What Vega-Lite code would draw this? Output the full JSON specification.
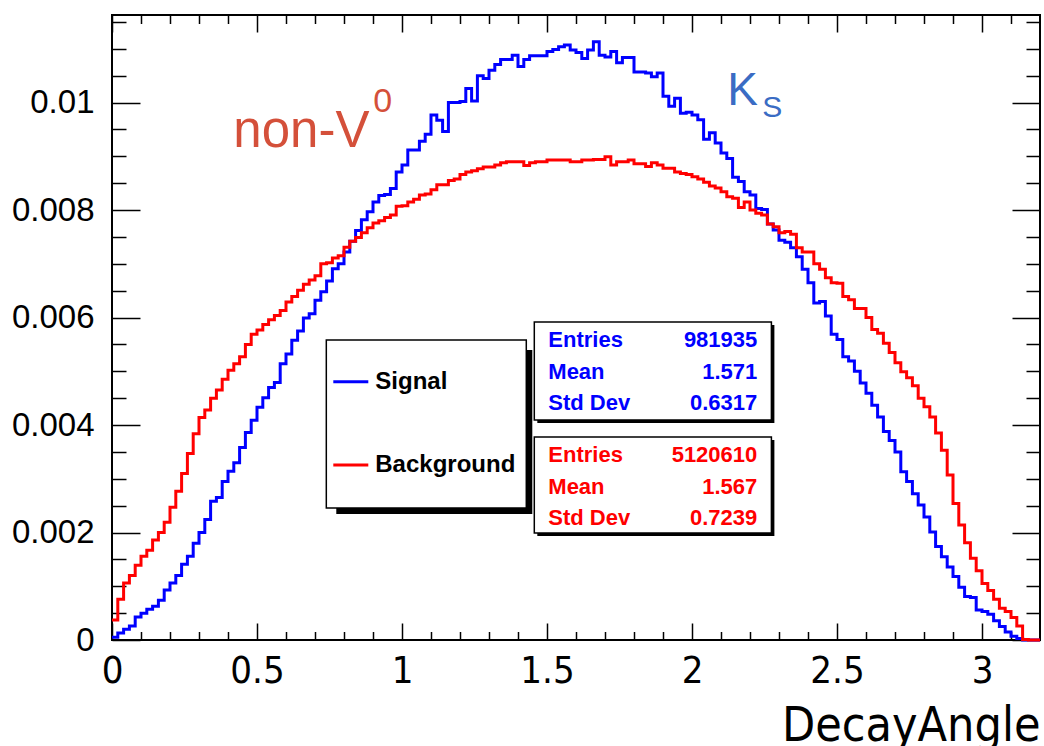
{
"$schema": "https://vega.github.io/schema/vega-lite/v6.json",
"width": 928, "height": 625,
"autosize": "none",
"padding": {"left": 112, "top": 15, "right": 4, "bottom": 106},
"background": "white",
"config": {"view": {"stroke": "black", "strokeWidth": 2}, "axis": {"tickColor": "black", "tickWidth": 1.5, "grid": false}},
"datasets": {
"one": [{}],
"signal": [
{"x":0,"y":0.00005},{"x":0.02,"y":0.00013},{"x":0.04,"y":0.0002},{"x":0.06,"y":0.00026},{"x":0.08,"y":0.00043},{"x":0.1,"y":0.0005},{"x":0.12,"y":0.00057},{"x":0.14,"y":0.00063},{"x":0.16,"y":0.00074},{"x":0.18,"y":0.00093},
{"x":0.2,"y":0.00106},{"x":0.22,"y":0.0012},{"x":0.24,"y":0.00141},{"x":0.26,"y":0.00156},{"x":0.28,"y":0.0018},{"x":0.3,"y":0.002},{"x":0.32,"y":0.00224},{"x":0.34,"y":0.00258},{"x":0.36,"y":0.00265},{"x":0.38,"y":0.00295},
{"x":0.4,"y":0.00314},{"x":0.42,"y":0.0033},{"x":0.44,"y":0.00358},{"x":0.46,"y":0.00386},{"x":0.48,"y":0.00409},{"x":0.5,"y":0.00433},{"x":0.52,"y":0.00451},{"x":0.54,"y":0.0047},{"x":0.56,"y":0.00479},{"x":0.58,"y":0.00514},
{"x":0.6,"y":0.00532},{"x":0.62,"y":0.00558},{"x":0.64,"y":0.00575},{"x":0.66,"y":0.00599},{"x":0.68,"y":0.00607},{"x":0.7,"y":0.00632},{"x":0.72,"y":0.00648},{"x":0.74,"y":0.00668},{"x":0.76,"y":0.00691},{"x":0.78,"y":0.007},
{"x":0.8,"y":0.00722},{"x":0.82,"y":0.00742},{"x":0.84,"y":0.00762},{"x":0.86,"y":0.00782},{"x":0.88,"y":0.00797},{"x":0.9,"y":0.00815},{"x":0.92,"y":0.00827},{"x":0.94,"y":0.00829},{"x":0.96,"y":0.0084},{"x":0.98,"y":0.00871},
{"x":1.0,"y":0.00884},{"x":1.02,"y":0.00912},{"x":1.04,"y":0.00912},{"x":1.06,"y":0.00928},{"x":1.08,"y":0.00941},{"x":1.1,"y":0.00977},{"x":1.12,"y":0.00967},{"x":1.14,"y":0.00946},{"x":1.16,"y":0.01},{"x":1.18,"y":0.01},
{"x":1.2,"y":0.01002},{"x":1.22,"y":0.01026},{"x":1.24,"y":0.01003},{"x":1.26,"y":0.0105},{"x":1.28,"y":0.01045},{"x":1.3,"y":0.0106},{"x":1.32,"y":0.01071},{"x":1.34,"y":0.0108},{"x":1.36,"y":0.0108},{"x":1.38,"y":0.01088},
{"x":1.4,"y":0.01067},{"x":1.42,"y":0.0108},{"x":1.44,"y":0.01087},{"x":1.46,"y":0.01087},{"x":1.48,"y":0.01087},{"x":1.5,"y":0.01095},{"x":1.52,"y":0.01099},{"x":1.54,"y":0.01104},{"x":1.56,"y":0.01107},{"x":1.58,"y":0.01098},
{"x":1.6,"y":0.01093},{"x":1.62,"y":0.01082},{"x":1.64,"y":0.01098},{"x":1.66,"y":0.01113},{"x":1.68,"y":0.01088},{"x":1.7,"y":0.01085},{"x":1.72,"y":0.01095},{"x":1.74,"y":0.01074},{"x":1.76,"y":0.01084},{"x":1.78,"y":0.01084},
{"x":1.8,"y":0.01057},{"x":1.82,"y":0.01057},{"x":1.84,"y":0.01055},{"x":1.86,"y":0.01048},{"x":1.88,"y":0.01055},{"x":1.9,"y":0.01012},{"x":1.92,"y":0.00993},{"x":1.94,"y":0.01008},{"x":1.96,"y":0.0098},{"x":1.98,"y":0.00982},
{"x":2.0,"y":0.00977},{"x":2.02,"y":0.00968},{"x":2.04,"y":0.00932},{"x":2.06,"y":0.00944},{"x":2.08,"y":0.00925},{"x":2.1,"y":0.00906},{"x":2.12,"y":0.00896},{"x":2.14,"y":0.00861},{"x":2.16,"y":0.00853},{"x":2.18,"y":0.00834},
{"x":2.2,"y":0.00828},{"x":2.22,"y":0.00803},{"x":2.24,"y":0.00801},{"x":2.26,"y":0.00774},{"x":2.28,"y":0.00763},{"x":2.3,"y":0.00744},{"x":2.32,"y":0.0074},{"x":2.34,"y":0.0073},{"x":2.36,"y":0.00713},{"x":2.38,"y":0.0069},
{"x":2.4,"y":0.00665},{"x":2.42,"y":0.00627},{"x":2.44,"y":0.0063},{"x":2.46,"y":0.00603},{"x":2.48,"y":0.00569},{"x":2.5,"y":0.00559},{"x":2.52,"y":0.00527},{"x":2.54,"y":0.00519},{"x":2.56,"y":0.005},{"x":2.58,"y":0.00478},
{"x":2.6,"y":0.00459},{"x":2.62,"y":0.00437},{"x":2.64,"y":0.00415},{"x":2.66,"y":0.00388},{"x":2.68,"y":0.00371},{"x":2.7,"y":0.0035},{"x":2.72,"y":0.00313},{"x":2.74,"y":0.00295},{"x":2.76,"y":0.00272},{"x":2.78,"y":0.00251},
{"x":2.8,"y":0.00229},{"x":2.82,"y":0.00201},{"x":2.84,"y":0.00174},{"x":2.86,"y":0.00155},{"x":2.88,"y":0.00136},{"x":2.9,"y":0.00118},{"x":2.92,"y":0.00098},{"x":2.94,"y":0.00081},{"x":2.96,"y":0.00079},{"x":2.98,"y":0.00056},
{"x":3.0,"y":0.00053},{"x":3.02,"y":0.00048},{"x":3.04,"y":0.00036},{"x":3.06,"y":0.00025},{"x":3.08,"y":0.00015},{"x":3.1,"y":0.00007},{"x":3.12,"y":0.00003},{"x":3.14,"y":0},{"x":3.16,"y":0},{"x":3.18,"y":0},
{"x":3.2,"y":0}
],
"background": [
{"x":0,"y":0.00037},{"x":0.02,"y":0.00076},{"x":0.04,"y":0.00106},{"x":0.06,"y":0.0012},{"x":0.08,"y":0.00139},{"x":0.1,"y":0.00156},{"x":0.12,"y":0.00167},{"x":0.14,"y":0.00186},{"x":0.16,"y":0.002},{"x":0.18,"y":0.00219},
{"x":0.2,"y":0.00247},{"x":0.22,"y":0.00277},{"x":0.24,"y":0.0031},{"x":0.26,"y":0.00347},{"x":0.28,"y":0.00384},{"x":0.3,"y":0.00414},{"x":0.32,"y":0.00428},{"x":0.34,"y":0.0045},{"x":0.36,"y":0.00465},{"x":0.38,"y":0.00485},
{"x":0.4,"y":0.00502},{"x":0.42,"y":0.00514},{"x":0.44,"y":0.00527},{"x":0.46,"y":0.0055},{"x":0.48,"y":0.00569},{"x":0.5,"y":0.00577},{"x":0.52,"y":0.00587},{"x":0.54,"y":0.00596},{"x":0.56,"y":0.00604},{"x":0.58,"y":0.00613},
{"x":0.6,"y":0.00629},{"x":0.62,"y":0.00639},{"x":0.64,"y":0.00651},{"x":0.66,"y":0.00662},{"x":0.68,"y":0.0067},{"x":0.7,"y":0.00678},{"x":0.72,"y":0.007},{"x":0.74,"y":0.00702},{"x":0.76,"y":0.00711},{"x":0.78,"y":0.00715},
{"x":0.8,"y":0.00731},{"x":0.82,"y":0.00742},{"x":0.84,"y":0.00749},{"x":0.86,"y":0.00758},{"x":0.88,"y":0.00767},{"x":0.9,"y":0.00776},{"x":0.92,"y":0.0078},{"x":0.94,"y":0.00786},{"x":0.96,"y":0.00791},{"x":0.98,"y":0.00807},
{"x":1.0,"y":0.00808},{"x":1.02,"y":0.00815},{"x":1.04,"y":0.0082},{"x":1.06,"y":0.00828},{"x":1.08,"y":0.0083},{"x":1.1,"y":0.00838},{"x":1.12,"y":0.00847},{"x":1.14,"y":0.00847},{"x":1.16,"y":0.00855},{"x":1.18,"y":0.00858},
{"x":1.2,"y":0.00866},{"x":1.22,"y":0.00871},{"x":1.24,"y":0.00873},{"x":1.26,"y":0.00877},{"x":1.28,"y":0.0088},{"x":1.3,"y":0.0088},{"x":1.32,"y":0.00884},{"x":1.34,"y":0.00888},{"x":1.36,"y":0.0089},{"x":1.38,"y":0.0089},
{"x":1.4,"y":0.0089},{"x":1.42,"y":0.00883},{"x":1.44,"y":0.00888},{"x":1.46,"y":0.0089},{"x":1.48,"y":0.0089},{"x":1.5,"y":0.00893},{"x":1.52,"y":0.00893},{"x":1.54,"y":0.00893},{"x":1.56,"y":0.00893},{"x":1.58,"y":0.0089},
{"x":1.6,"y":0.0089},{"x":1.62,"y":0.00893},{"x":1.64,"y":0.00893},{"x":1.66,"y":0.00894},{"x":1.68,"y":0.00894},{"x":1.7,"y":0.00899},{"x":1.72,"y":0.00884},{"x":1.74,"y":0.0089},{"x":1.76,"y":0.0089},{"x":1.78,"y":0.00893},
{"x":1.8,"y":0.00886},{"x":1.82,"y":0.00886},{"x":1.84,"y":0.00881},{"x":1.86,"y":0.00888},{"x":1.88,"y":0.00884},{"x":1.9,"y":0.00878},{"x":1.92,"y":0.00878},{"x":1.94,"y":0.00871},{"x":1.96,"y":0.00868},{"x":1.98,"y":0.00866},
{"x":2.0,"y":0.00862},{"x":2.02,"y":0.00858},{"x":2.04,"y":0.00852},{"x":2.06,"y":0.00845},{"x":2.08,"y":0.00841},{"x":2.1,"y":0.00834},{"x":2.12,"y":0.00825},{"x":2.14,"y":0.00822},{"x":2.16,"y":0.00805},{"x":2.18,"y":0.00815},
{"x":2.2,"y":0.008},{"x":2.22,"y":0.00794},{"x":2.24,"y":0.00791},{"x":2.26,"y":0.00774},{"x":2.28,"y":0.00769},{"x":2.3,"y":0.00758},{"x":2.32,"y":0.0076},{"x":2.34,"y":0.00755},{"x":2.36,"y":0.0073},{"x":2.38,"y":0.00722},
{"x":2.4,"y":0.00722},{"x":2.42,"y":0.007},{"x":2.44,"y":0.0069},{"x":2.46,"y":0.00674},{"x":2.48,"y":0.00665},{"x":2.5,"y":0.00664},{"x":2.52,"y":0.00639},{"x":2.54,"y":0.00633},{"x":2.56,"y":0.00617},{"x":2.58,"y":0.00617},
{"x":2.6,"y":0.006},{"x":2.62,"y":0.00578},{"x":2.64,"y":0.00571},{"x":2.66,"y":0.00552},{"x":2.68,"y":0.00535},{"x":2.7,"y":0.00516},{"x":2.72,"y":0.00499},{"x":2.74,"y":0.00488},{"x":2.76,"y":0.00473},{"x":2.78,"y":0.0045},
{"x":2.8,"y":0.00434},{"x":2.82,"y":0.00415},{"x":2.84,"y":0.00385},{"x":2.86,"y":0.00353},{"x":2.88,"y":0.00307},{"x":2.9,"y":0.00254},{"x":2.92,"y":0.00214},{"x":2.94,"y":0.00181},{"x":2.96,"y":0.00152},{"x":2.98,"y":0.00129},
{"x":3.0,"y":0.00105},{"x":3.02,"y":0.00092},{"x":3.04,"y":0.00076},{"x":3.06,"y":0.00059},{"x":3.08,"y":0.00053},{"x":3.1,"y":0.00042},{"x":3.12,"y":0.00026},{"x":3.14,"y":0.00001},{"x":3.16,"y":0},{"x":3.18,"y":0},
{"x":3.2,"y":0}
]
},
"resolve": {"axis": {"x": "independent", "y": "independent"}},
"layer": [
{"data": {"name": "signal"}, "mark": {"type": "point", "opacity": 0},
 "encoding": {
  "x": {"field": "x", "type": "quantitative", "scale": {"domain": [0, 3.2], "nice": false, "zero": false},
        "axis": {"orient": "bottom", "values": [0, 0.5, 1, 1.5, 2, 2.5, 3], "labels": false, "domain": false, "title": null, "tickSize": -17}},
  "y": {"field": "y", "type": "quantitative", "scale": {"domain": [0, 0.01163], "nice": false, "zero": false},
        "axis": {"orient": "left", "values": [0, 0.002, 0.004, 0.006, 0.008, 0.01], "labels": false, "domain": false, "title": null, "tickSize": -28}}}},
{"data": {"name": "signal"}, "mark": {"type": "point", "opacity": 0},
 "encoding": {
  "x": {"field": "x", "type": "quantitative", "scale": {"domain": [0, 3.2], "nice": false, "zero": false},
        "axis": {"orient": "bottom", "values": [0.1,0.2,0.3,0.4,0.6,0.7,0.8,0.9,1.1,1.2,1.3,1.4,1.6,1.7,1.8,1.9,2.1,2.2,2.3,2.4,2.6,2.7,2.8,2.9,3.1], "labels": false, "domain": false, "title": null, "tickSize": -8.5}},
  "y": {"field": "y", "type": "quantitative", "scale": {"domain": [0, 0.01163], "nice": false, "zero": false},
        "axis": {"orient": "left", "values": [0.0005,0.001,0.0015,0.0025,0.003,0.0035,0.0045,0.005,0.0055,0.0065,0.007,0.0075,0.0085,0.009,0.0095,0.0105,0.011,0.0115], "labels": false, "domain": false, "title": null, "tickSize": -14}}}},
{"data": {"name": "signal"}, "mark": {"type": "point", "opacity": 0},
 "encoding": {
  "x": {"field": "x", "type": "quantitative", "scale": {"domain": [0, 3.2], "nice": false, "zero": false},
        "axis": {"orient": "top", "values": [0, 0.5, 1, 1.5, 2, 2.5, 3], "labels": false, "domain": false, "title": null, "tickSize": -17}},
  "y": {"field": "y", "type": "quantitative", "scale": {"domain": [0, 0.01163], "nice": false, "zero": false},
        "axis": {"orient": "right", "values": [0, 0.002, 0.004, 0.006, 0.008, 0.01], "labels": false, "domain": false, "title": null, "tickSize": -28}}}},
{"data": {"name": "signal"}, "mark": {"type": "point", "opacity": 0},
 "encoding": {
  "x": {"field": "x", "type": "quantitative", "scale": {"domain": [0, 3.2], "nice": false, "zero": false},
        "axis": {"orient": "top", "values": [0.1,0.2,0.3,0.4,0.6,0.7,0.8,0.9,1.1,1.2,1.3,1.4,1.6,1.7,1.8,1.9,2.1,2.2,2.3,2.4,2.6,2.7,2.8,2.9,3.1], "labels": false, "domain": false, "title": null, "tickSize": -8.5}},
  "y": {"field": "y", "type": "quantitative", "scale": {"domain": [0, 0.01163], "nice": false, "zero": false},
        "axis": {"orient": "right", "values": [0.0005,0.001,0.0015,0.0025,0.003,0.0035,0.0045,0.005,0.0055,0.0065,0.007,0.0075,0.0085,0.009,0.0095,0.0105,0.011,0.0115], "labels": false, "domain": false, "title": null, "tickSize": -14}}}},
{"data": {"name": "signal"}, "mark": {"type": "line", "interpolate": "step-after", "color": "#0000ff", "strokeWidth": 3},
 "encoding": {
  "x": {"field": "x", "type": "quantitative", "scale": {"domain": [0, 3.2], "nice": false, "zero": false},
        "axis": {"orient": "bottom", "values": [0, 0.5, 1, 1.5, 2, 2.5, 3], "ticks": false, "tickSize": 0, "domain": false,
                 "labelFont": "DejaVu Sans Condensed, Liberation Sans, sans-serif", "labelFontSize": 38, "labelPadding": 12, "labelColor": "black",
                 "labelExpr": "format(datum.value, '~g')", "labelFlush": false, "labelOverlap": false,
                 "title": "DecayAngle", "titleFont": "DejaVu Sans Condensed, Liberation Sans, sans-serif", "titleFontSize": 48, "titleFontWeight": "normal", "titleColor": "black",
                 "titleAnchor": "end", "titleAlign": "right", "titleBaseline": "alphabetic", "titleX": 928, "titleY": 100}},
  "y": {"field": "y", "type": "quantitative", "scale": {"domain": [0, 0.01163], "nice": false, "zero": false},
        "axis": {"orient": "left", "values": [0, 0.002, 0.004, 0.006, 0.008, 0.01], "ticks": false, "tickSize": 0, "domain": false,
                 "labelFont": "Liberation Sans", "labelFontSize": 33, "labelPadding": 18, "labelColor": "black",
                 "labelExpr": "datum.value == 0 ? '0' : format(datum.value, '.3~f')", "labelFlush": false, "labelOverlap": false, "title": null}}}},
{"data": {"name": "background"}, "mark": {"type": "line", "interpolate": "step-after", "color": "#ff0000", "strokeWidth": 3},
 "encoding": {
  "x": {"field": "x", "type": "quantitative", "scale": {"domain": [0, 3.2], "nice": false, "zero": false}, "axis": null},
  "y": {"field": "y", "type": "quantitative", "scale": {"domain": [0, 0.01163], "nice": false, "zero": false}, "axis": null}}},
{"data": {"name": "one"}, "mark": {"type": "rect", "color": "black"},
 "encoding": {
  "x": {"datum": 0.7734, "type": "quantitative", "scale": {"domain": [0, 3.2], "nice": false, "zero": false}, "axis": null}, "x2": {"datum": 1.4493},
  "y": {"datum": 0.005396, "type": "quantitative", "scale": {"domain": [0, 0.01163], "nice": false, "zero": false}, "axis": null}, "y2": {"datum": 0.002345}}},
{"data": {"name": "one"}, "mark": {"type": "rect", "fill": "white", "stroke": "black", "strokeWidth": 1.5},
 "encoding": {
  "x": {"datum": 0.739, "type": "quantitative", "scale": {"domain": [0, 3.2], "nice": false, "zero": false}, "axis": null}, "x2": {"datum": 1.4286},
  "y": {"datum": 0.005582, "type": "quantitative", "scale": {"domain": [0, 0.01163], "nice": false, "zero": false}, "axis": null}, "y2": {"datum": 0.002456}}},
{"data": {"name": "one"}, "mark": {"type": "rule", "color": "#0000ff", "strokeWidth": 3},
 "encoding": {
  "x": {"datum": 0.7631, "type": "quantitative", "scale": {"domain": [0, 3.2], "nice": false, "zero": false}, "axis": null}, "x2": {"datum": 0.8838},
  "y": {"datum": 0.004806, "type": "quantitative", "scale": {"domain": [0, 0.01163], "nice": false, "zero": false}, "axis": null}}},
{"data": {"name": "one"}, "mark": {"type": "rule", "color": "#ff0000", "strokeWidth": 3},
 "encoding": {
  "x": {"datum": 0.7631, "type": "quantitative", "scale": {"domain": [0, 3.2], "nice": false, "zero": false}, "axis": null}, "x2": {"datum": 0.8838},
  "y": {"datum": 0.003256, "type": "quantitative", "scale": {"domain": [0, 0.01163], "nice": false, "zero": false}, "axis": null}}},
{"data": {"name": "one"}, "mark": {"type": "text", "text": "Signal", "font": "Liberation Sans", "fontWeight": "bold", "fontSize": 24, "color": "black", "align": "left", "baseline": "middle"},
 "encoding": {
  "x": {"datum": 0.9079, "type": "quantitative", "scale": {"domain": [0, 3.2], "nice": false, "zero": false}, "axis": null},
  "y": {"datum": 0.004806, "type": "quantitative", "scale": {"domain": [0, 0.01163], "nice": false, "zero": false}, "axis": null}}},
{"data": {"name": "one"}, "mark": {"type": "text", "text": "Background", "font": "Liberation Sans", "fontWeight": "bold", "fontSize": 24, "color": "black", "align": "left", "baseline": "middle"},
 "encoding": {
  "x": {"datum": 0.9079, "type": "quantitative", "scale": {"domain": [0, 3.2], "nice": false, "zero": false}, "axis": null},
  "y": {"datum": 0.003256, "type": "quantitative", "scale": {"domain": [0, 0.01163], "nice": false, "zero": false}, "axis": null}}},
{"data": {"name": "one"}, "mark": {"type": "rect", "color": "black"},
 "encoding": {
  "x": {"datum": 1.4666, "type": "quantitative", "scale": {"domain": [0, 3.2], "nice": false, "zero": false}, "axis": null}, "x2": {"datum": 2.2841},
  "y": {"datum": 0.005861, "type": "quantitative", "scale": {"domain": [0, 0.01163], "nice": false, "zero": false}, "axis": null}, "y2": {"datum": 0.004038}}},
{"data": {"name": "one"}, "mark": {"type": "rect", "fill": "white", "stroke": "black", "strokeWidth": 1.5},
 "encoding": {
  "x": {"datum": 1.4562, "type": "quantitative", "scale": {"domain": [0, 3.2], "nice": false, "zero": false}, "axis": null}, "x2": {"datum": 2.2738},
  "y": {"datum": 0.005917, "type": "quantitative", "scale": {"domain": [0, 0.01163], "nice": false, "zero": false}, "axis": null}, "y2": {"datum": 0.004094}}},
{"data": {"name": "one"}, "mark": {"type": "rect", "color": "black"},
 "encoding": {
  "x": {"datum": 1.4666, "type": "quantitative", "scale": {"domain": [0, 3.2], "nice": false, "zero": false}, "axis": null}, "x2": {"datum": 2.2841},
  "y": {"datum": 0.003722, "type": "quantitative", "scale": {"domain": [0, 0.01163], "nice": false, "zero": false}, "axis": null}, "y2": {"datum": 0.001935}}},
{"data": {"name": "one"}, "mark": {"type": "rect", "fill": "white", "stroke": "black", "strokeWidth": 1.5},
 "encoding": {
  "x": {"datum": 1.4562, "type": "quantitative", "scale": {"domain": [0, 3.2], "nice": false, "zero": false}, "axis": null}, "x2": {"datum": 2.2738},
  "y": {"datum": 0.003777, "type": "quantitative", "scale": {"domain": [0, 0.01163], "nice": false, "zero": false}, "axis": null}, "y2": {"datum": 0.001991}}},
{"data": {"name": "one"}, "mark": {"type": "text", "text": ["Entries", "Mean", "Std Dev"], "lineHeight": 31.7, "font": "Liberation Sans", "fontWeight": "bold", "fontSize": 22, "color": "#0000ff", "align": "left", "baseline": "middle"},
 "encoding": {
  "x": {"datum": 1.5045, "type": "quantitative", "scale": {"domain": [0, 3.2], "nice": false, "zero": false}, "axis": null},
  "y": {"datum": 0.005582, "type": "quantitative", "scale": {"domain": [0, 0.01163], "nice": false, "zero": false}, "axis": null}}},
{"data": {"name": "one"}, "mark": {"type": "text", "text": ["981935", "1.571", "0.6317"], "lineHeight": 31.7, "font": "Liberation Sans", "fontWeight": "bold", "fontSize": 22, "color": "#0000ff", "align": "right", "baseline": "middle"},
 "encoding": {
  "x": {"datum": 2.2252, "type": "quantitative", "scale": {"domain": [0, 3.2], "nice": false, "zero": false}, "axis": null},
  "y": {"datum": 0.005582, "type": "quantitative", "scale": {"domain": [0, 0.01163], "nice": false, "zero": false}, "axis": null}}},
{"data": {"name": "one"}, "mark": {"type": "text", "text": ["Entries", "Mean", "Std Dev"], "lineHeight": 31.7, "font": "Liberation Sans", "fontWeight": "bold", "fontSize": 22, "color": "#ff0000", "align": "left", "baseline": "middle"},
 "encoding": {
  "x": {"datum": 1.5045, "type": "quantitative", "scale": {"domain": [0, 3.2], "nice": false, "zero": false}, "axis": null},
  "y": {"datum": 0.003442, "type": "quantitative", "scale": {"domain": [0, 0.01163], "nice": false, "zero": false}, "axis": null}}},
{"data": {"name": "one"}, "mark": {"type": "text", "text": ["5120610", "1.567", "0.7239"], "lineHeight": 31.7, "font": "Liberation Sans", "fontWeight": "bold", "fontSize": 22, "color": "#ff0000", "align": "right", "baseline": "middle"},
 "encoding": {
  "x": {"datum": 2.2252, "type": "quantitative", "scale": {"domain": [0, 3.2], "nice": false, "zero": false}, "axis": null},
  "y": {"datum": 0.003442, "type": "quantitative", "scale": {"domain": [0, 0.01163], "nice": false, "zero": false}, "axis": null}}},
{"data": {"name": "one"}, "mark": {"type": "text", "text": "non-V", "font": "Liberation Sans", "fontSize": 51, "color": "#d4503a", "align": "left", "baseline": "alphabetic"},
 "encoding": {
  "x": {"datum": 0.4183, "type": "quantitative", "scale": {"domain": [0, 3.2], "nice": false, "zero": false}, "axis": null},
  "y": {"datum": 0.009174, "type": "quantitative", "scale": {"domain": [0, 0.01163], "nice": false, "zero": false}, "axis": null}}},
{"data": {"name": "one"}, "mark": {"type": "text", "text": "0", "font": "Liberation Sans", "fontSize": 34, "color": "#d4503a", "align": "left", "baseline": "alphabetic"},
 "encoding": {
  "x": {"datum": 0.9010, "type": "quantitative", "scale": {"domain": [0, 3.2], "nice": false, "zero": false}, "axis": null},
  "y": {"datum": 0.009825, "type": "quantitative", "scale": {"domain": [0, 0.01163], "nice": false, "zero": false}, "axis": null}}},
{"data": {"name": "one"}, "mark": {"type": "text", "text": "K", "font": "Liberation Sans", "fontSize": 46, "color": "#3a6cc4", "align": "left", "baseline": "alphabetic"},
 "encoding": {
  "x": {"datum": 2.1217, "type": "quantitative", "scale": {"domain": [0, 3.2], "nice": false, "zero": false}, "axis": null},
  "y": {"datum": 0.009955, "type": "quantitative", "scale": {"domain": [0, 0.01163], "nice": false, "zero": false}, "axis": null}}},
{"data": {"name": "one"}, "mark": {"type": "text", "text": "S", "font": "Liberation Sans", "fontSize": 30, "color": "#3a6cc4", "align": "left", "baseline": "alphabetic"},
 "encoding": {
  "x": {"datum": 2.2424, "type": "quantitative", "scale": {"domain": [0, 3.2], "nice": false, "zero": false}, "axis": null},
  "y": {"datum": 0.009725, "type": "quantitative", "scale": {"domain": [0, 0.01163], "nice": false, "zero": false}, "axis": null}}}
]
}
